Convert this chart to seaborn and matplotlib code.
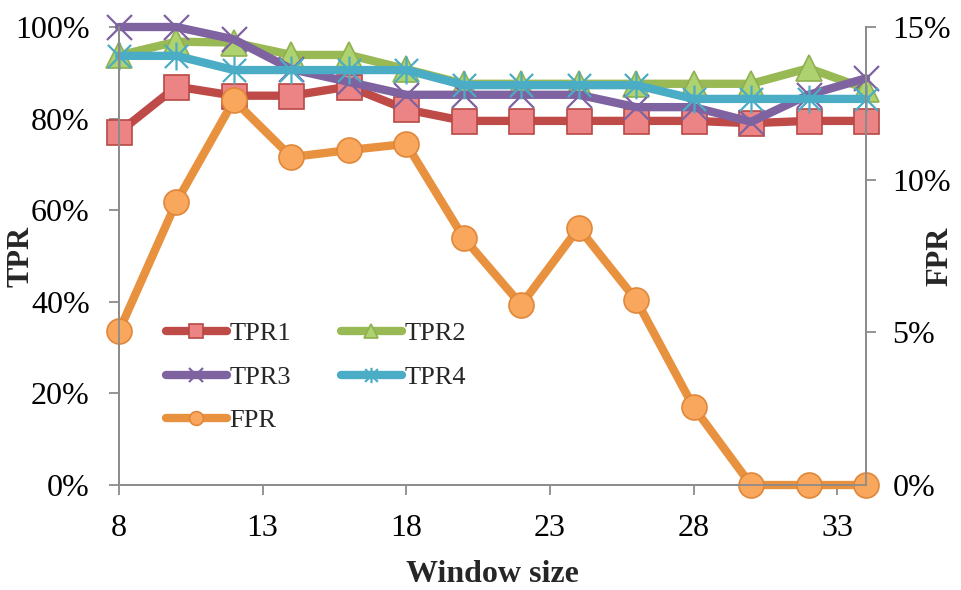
import numpy as np
import pandas as pd
import seaborn as sns
import matplotlib
matplotlib.use("Agg")
import matplotlib.pyplot as plt
from matplotlib.path import Path

# ---- data ----
window = [8, 10, 12, 14, 16, 18, 20, 22, 24, 26, 28, 30, 32, 34]
tpr1 = [77, 87, 85, 85, 87, 82, 79.5, 79.5, 79.5, 79.5, 79.5, 79, 79.5, 79.5]
tpr2 = [93.8, 96.8, 96.6, 93.9, 93.9, 90.8, 87.6, 87.6, 87.6, 87.6, 87.6, 87.6, 91, 86.5]
tpr3 = [100, 100, 97.3, 90.8, 88, 85.2, 85.2, 85.2, 85.2, 82.5, 82.5, 79.3, 85.2, 88.8]
tpr4 = [93.7, 93.7, 90.6, 90.6, 90.6, 90.6, 87.3, 87.3, 87.3, 87.3, 84.3, 84.3, 84.3, 84.3]
fpr = [5.04, 9.27, 12.6, 10.74, 10.97, 11.17, 8.09, 5.9, 8.42, 6.06, 2.55, 0, 0, 0]

x_ticks = [8, 13, 18, 23, 28, 33]
left_ticks = [0, 20, 40, 60, 80, 100]
right_ticks = [0, 5, 10, 15]

sns.set_style("white")
plt.rcParams['font.family'] = ['Liberation Serif', 'DejaVu Serif']

fig = plt.figure(figsize=(9.61, 5.90), dpi=100)
ax = fig.add_axes([119/961, 1-485/590, (866-119)/961, (485-27)/590])
ax2 = ax.twinx()

asterisk = Path([(-1, -1), (1, 1), (-1, 1), (1, -1), (0, -1.2), (0, 1.2)],
                [Path.MOVETO, Path.LINETO, Path.MOVETO, Path.LINETO, Path.MOVETO, Path.LINETO])

common = dict(linewidth=6, clip_on=False, solid_joinstyle='round', solid_capstyle='round')

h1 = sns.lineplot(x=window, y=tpr1, ax=ax, color='#BE4B48', marker='s', markersize=18,
                  markerfacecolor='#EC8486', markeredgecolor='#B84845', markeredgewidth=1.2,
                  label='TPR1', **common).lines[-1]
h2 = sns.lineplot(x=window, y=tpr2, ax=ax, color='#98B954', marker='^', markersize=19,
                  markerfacecolor='#ADD26F', markeredgecolor='#8FB04F', markeredgewidth=1.2,
                  label='TPR2', **common).lines[-1]
h3 = sns.lineplot(x=window, y=tpr3, ax=ax, color='#7F63A1', marker='x', markersize=18,
                  markeredgecolor='#7F63A1', markeredgewidth=1.6,
                  label='TPR3', **common).lines[-1]
h4 = sns.lineplot(x=window, y=tpr4, ax=ax, color='#4AACC5', marker=asterisk, markersize=20,
                  markerfacecolor='none', markeredgecolor='#4AACC5', markeredgewidth=1.6,
                  label='TPR4', **common).lines[-1]
h5 = sns.lineplot(x=window, y=fpr, ax=ax2, color='#E8913F', marker='o', markersize=18,
                  markerfacecolor='#F9A75C', markeredgecolor='#E0873A', markeredgewidth=1.2,
                  label='FPR', **common).lines[-1]

if ax.get_legend():
    ax.get_legend().remove()
if ax2.get_legend():
    ax2.get_legend().remove()

ax.set_xlim(8, 34)
ax.set_ylim(0, 100)
ax2.set_ylim(0, 15)
ax.set_xticks(x_ticks)
ax.set_xticklabels([str(t) for t in x_ticks])
ax.set_yticks(left_ticks)
ax.set_yticklabels([f"{t}%" for t in left_ticks])
ax2.set_yticks(right_ticks)
ax2.set_yticklabels([f"{t}%" for t in right_ticks])

spine_col = '#8C8C8C'
for a in (ax, ax2):
    a.spines['top'].set_visible(False)
    for s in ('left', 'right', 'bottom'):
        a.spines[s].set_color(spine_col)
        a.spines[s].set_linewidth(1.3)
    a.tick_params(direction='out', length=7, width=1.3, color=spine_col,
                  labelsize=23, labelcolor='black', pad=12)
ax.tick_params(axis='y', pad=14)
ax.tick_params(axis='x', pad=14)
ax.tick_params(left=True, bottom=True)
ax2.tick_params(right=True)

ax.set_xlabel('Window size', fontsize=23, fontweight='bold', va='center')
ax.xaxis.set_label_coords(0.5, -(574-485)/458)
ax.set_ylabel('TPR', fontsize=22, fontweight='bold', va='center')
ax.yaxis.set_label_coords(-(119-21)/747, 0.5)
ax2.set_ylabel('FPR', fontsize=22, fontweight='bold', va='center')
ax2.yaxis.set_label_coords((940-119)/747, 0.5)

handles = [h1, h3, h5, h2, h4]
labels = ['TPR1', 'TPR3', 'FPR', 'TPR2', 'TPR4']
leg = ax2.legend(handles, labels, ncol=2, frameon=False, loc='upper left',
                 bbox_to_anchor=(166/961, 1-322/590), bbox_transform=fig.transFigure,
                 borderpad=0, borderaxespad=0, fontsize=19, handlelength=2.3,
                 handletextpad=0.1, columnspacing=1.9, labelspacing=0.75, markerscale=0.55)

fig.savefig('out.png', dpi=100)
